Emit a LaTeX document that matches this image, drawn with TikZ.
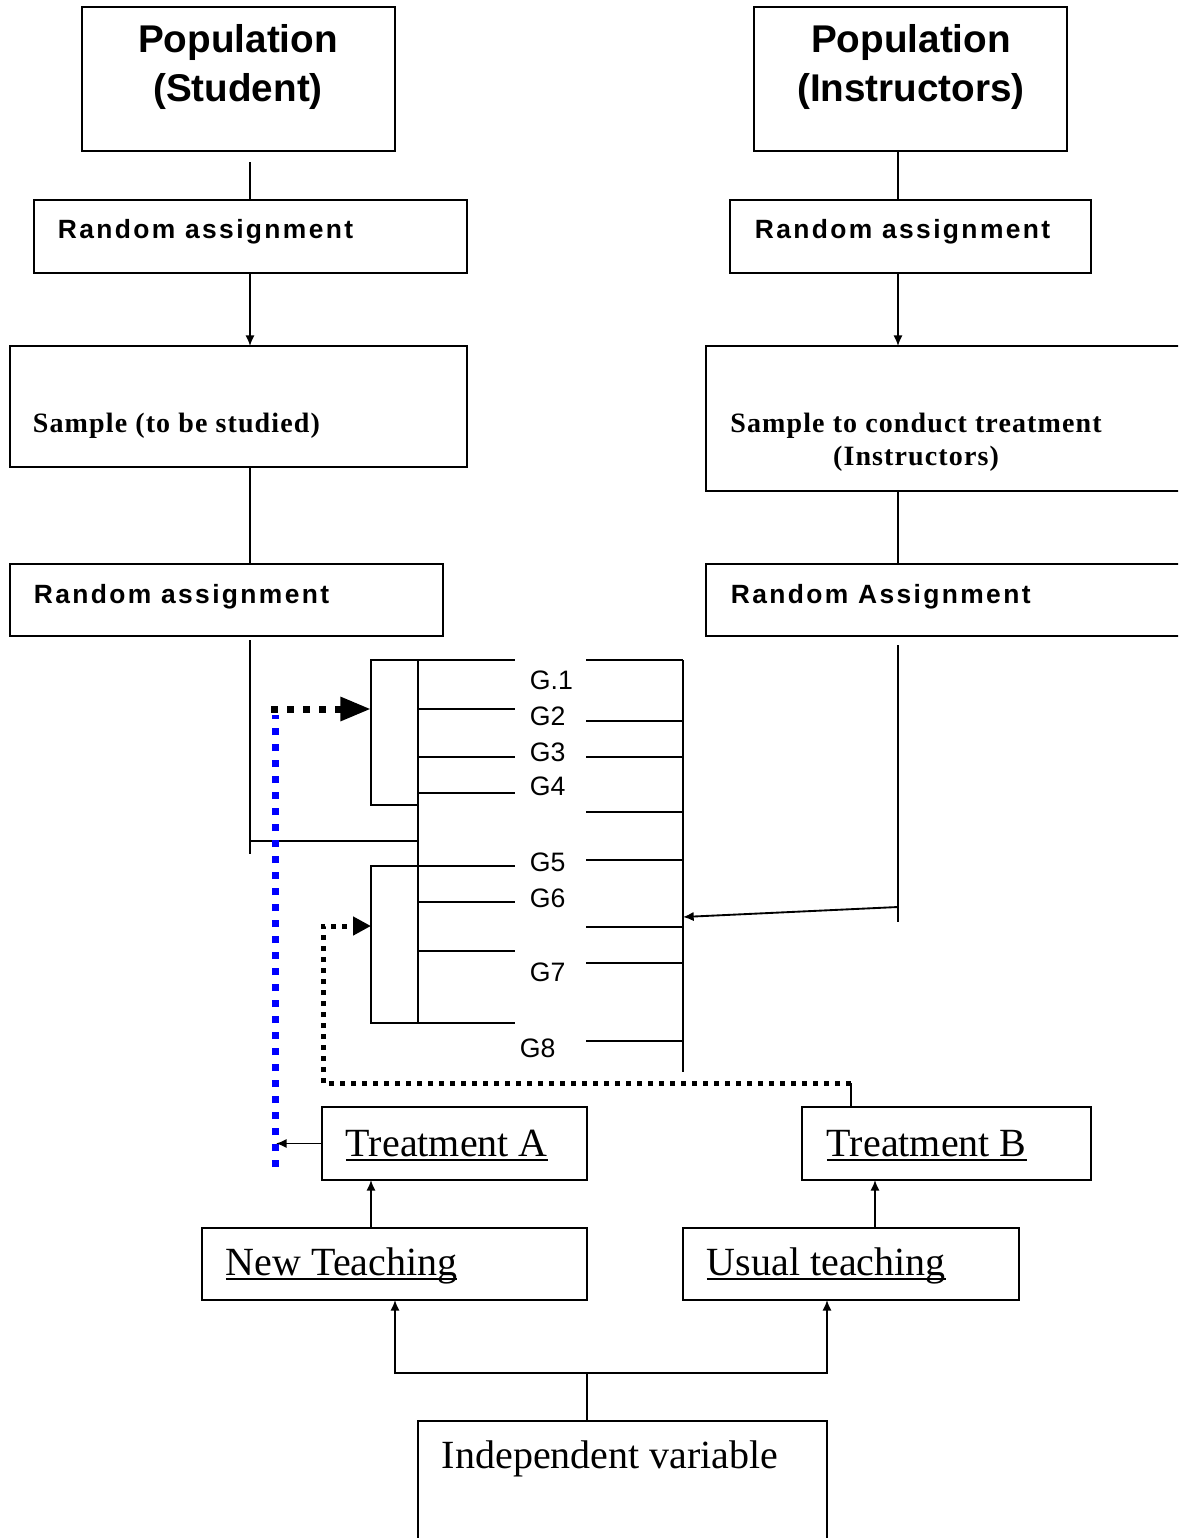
\documentclass[tikz,border=0pt]{standalone}
\usepackage{fontspec}
\setmainfont{Liberation Serif}
\newfontfamily\sansn{Liberation Sans}
\newfontfamily\sansw{Liberation Sans}[LetterSpace=9]
\newfontfamily\serifw{Liberation Serif}[LetterSpace=4]
\usetikzlibrary{arrows.meta,calc}

% text with a rule just below its baseline
\newcommand\ulx[1]{\setbox0\hbox{#1}\rlap{\rule[-3.5pt]{\wd0}{1.1pt}}\box0}

% rectangle given by its corners (x1,y1) and (x2,y2), y growing downward
\newcommand\boxat[5]{\node[frame, anchor=north west,
  minimum width={(#4-#2)*0.75pt}, minimum height={(#5-#3)*0.75pt}] (#1) at (#2,#3) {};}

\begin{document}
\begin{tikzpicture}[x=0.75pt,y=-0.75pt,line width=1.4pt,
  frame/.style={draw, inner sep=0pt, outer sep=0pt},
  arr/.style={-{Latex[length=8pt,width=7pt]}},
  popt/.style={font=\sansn\bfseries\fontsize{29pt}{36pt}\selectfont, align=center, inner sep=0pt},
  rat/.style={font=\sansw\bfseries\fontsize{19.8pt}{24pt}\selectfont, anchor=base west, inner sep=0pt},
  smt/.style={font=\serifw\bfseries\fontsize{21pt}{24.75pt}\selectfont, inner sep=0pt},
  gt/.style={font=\sansn\fontsize{20pt}{24pt}\selectfont, anchor=base west, inner sep=0pt},
  tt/.style={font=\fontsize{30pt}{36pt}\selectfont, anchor=base west, inner sep=0pt},
  bluedots/.style={draw=blue, line width=5.25pt, dash pattern=on 5.25pt off 6.75pt},
  bigdots/.style={draw=black, line width=5.25pt, dash pattern=on 5.25pt off 6.75pt},
  smalldots/.style={draw=black, line width=3.75pt, dash pattern=on 3.75pt off 4.5pt}]
\useasboundingbox (0,0) rectangle (1178,1538);
\clip (0,0) rectangle (1178,1538);

% ---- boxes ----
\boxat{PopS}{82}{7}{395}{151}
\boxat{PopI}{754}{7}{1067}{151}
\boxat{RAa}{34}{200}{467}{273}
\boxat{RAb}{730}{200}{1091}{273}
\boxat{SmpS}{10}{346}{467}{467}
\boxat{SmpI}{706}{346}{1200}{491}
\boxat{RAc}{10}{564}{443}{636}
\boxat{RAd}{706}{564}{1200}{636}
\boxat{BrU}{371}{660}{418}{805}
\boxat{BrL}{371}{866}{418}{1023}
\boxat{TrA}{322}{1107}{587}{1180}
\boxat{TrB}{802}{1107}{1091}{1180}
\boxat{NewT}{202}{1228}{587}{1300}
\boxat{UsuT}{683}{1228}{1019}{1300}
\boxat{IndV}{418}{1421}{827}{1570}

% ---- texts (two-line nodes sit on the baseline of their last line) ----
\node[popt, anchor=base] (tPopS) at (238,101) {Population\\(Student)};
\node[popt, anchor=base] (tPopI) at (911,101) {Population\\(Instructors)};
\node[rat] (tRAa) at (57,238) {Random assignment};
\node[rat] (tRAb) at (754,238) {Random assignment};
\node[smt, anchor=base west] (tSmpS) at (32,432) {Sample (to be studied)};
\node[smt, anchor=base, align=center] (tSmpI) at (916,465) {Sample to conduct treatment\\(Instructors)};
\node[rat] (tRAc) at (33,603) {Random assignment};
\node[rat] (tRAd) at (730,603) {Random Assignment};
\node[tt] (tTrA) at (345,1156) {\ulx{Treatment A}};
\node[tt] (tTrB) at (826,1156) {\ulx{Treatment B}};
\node[tt] (tNewT) at (225,1275) {\ulx{New Teaching}};
\node[tt] (tUsuT) at (706,1275) {\ulx{Usual teaching}};
\node[tt] (tIndV) at (441,1468) {Independent variable};

\node[gt] (g1) at (529,689) {G.1};
\node[gt] (g2) at (529,725) {G2};
\node[gt] (g3) at (529,761) {G3};
\node[gt] (g4) at (529,795) {G4};
\node[gt] (g5) at (529,871) {G5};
\node[gt] (g6) at (529,907) {G6};
\node[gt] (g7) at (529,981) {G7};
\node[gt] (g8) at (519,1057) {G8};

% ---- student column ----
\coordinate (xl) at (250,0);
\coordinate (xr) at (898,0);
\draw (250,162) -- (xl |- RAa.north);
\draw[arr] (xl |- RAa.south) -- (xl |- SmpS.north);
\draw (xl |- SmpS.south) -- (xl |- RAc.north);
\coordinate (sTop) at (250,640);
\coordinate (sBot) at (250,854);
\coordinate (sJoin) at (250,841);
\draw (sTop) -- (sBot);
\draw (sJoin) -- (BrU.east |- sJoin);

% ---- instructor column ----
\draw (xr |- PopI.south) -- (xr |- RAb.north);
\draw[arr] (xr |- RAb.south) -- (xr |- SmpI.north);
\draw (xr |- SmpI.south) -- (xr |- RAd.north);
\coordinate (iTop) at (898,645);
\coordinate (iBot) at (898,922);
\coordinate (iOut) at (898,907);
\coordinate (iIn) at (683,917);
\draw (iTop) -- (iBot);
\draw[arr] (iOut) -- (iIn);

% ---- group ladder ----
\draw (BrU.north east) -- (BrL.south east);
\foreach \y in {660,709,757,793,866,902,951,1023}
  \draw (418,\y) -- (515,\y);
\draw (683,660) -- (683,1072);
\foreach \y in {660,721,757,812,860,927,963,1041}
  \draw (586,\y) -- (683,\y);

% ---- treatment paths ----
\draw[bluedots] (275,1167) -- (275,715);
\draw[bigdots, -{Triangle[length=23pt,width=17pt]}] (271,709) -- (BrU.west |- 0,709);
\draw (TrB.north -| 851,0) -- (851,1083);
\draw[smalldots, -{Triangle[length=13.5pt,width=13.5pt]}]
  (851,1083) -- (323,1083) -- (323,926) -- (BrL.west |- 0,926);
\draw[arr] (TrA.west) -- (276,0 |- TrA.west);
\draw[arr] (371,0 |- NewT.north) -- (371,0 |- TrA.south);
\draw[arr] (875,0 |- UsuT.north) -- (875,0 |- TrB.south);
\coordinate (split) at (587,1373);
\draw (587,0 |- IndV.north) -- (split);
\draw[arr] (split) -| (395,0 |- NewT.south);
\draw[arr] (split) -| (827,0 |- UsuT.south);
\end{tikzpicture}
\end{document}
